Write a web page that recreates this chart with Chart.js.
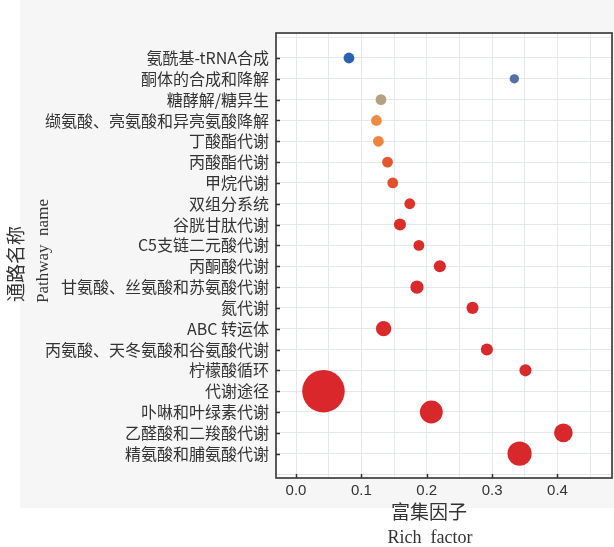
<!DOCTYPE html>
<html>
<head>
<meta charset="utf-8">
<script src="https://cdn.jsdelivr.net/npm/chart.js@4/dist/chart.umd.min.js"></script>
<style>
  html, body { margin: 0; padding: 0; background: #fff; }
  canvas { display: block; }
</style>
</head>
<body>
<canvas id="bubbleChart" width="614" height="547"></canvas>
<script>
// KEGG pathway enrichment, top to bottom as in the figure
const pathways = [
  "氨酰基-tRNA合成", "酮体的合成和降解", "糖酵解/糖异生", "缬氨酸、亮氨酸和异亮氨酸降解",
  "丁酸酯代谢", "丙酸酯代谢", "甲烷代谢", "双组分系统", "谷胱甘肽代谢", "C5支链二元酸代谢",
  "丙酮酸代谢", "甘氨酸、丝氨酸和苏氨酸代谢", "氮代谢", "ABC 转运体",
  "丙氨酸、天冬氨酸和谷氨酸代谢", "柠檬酸循环", "代谢途径", "卟啉和叶绿素代谢",
  "乙醛酸和二羧酸代谢", "精氨酸和脯氨酸代谢"
];
const richFactor = [0.081, 0.334, 0.130, 0.123, 0.126, 0.140, 0.148, 0.174, 0.159, 0.188,
                    0.220, 0.185, 0.270, 0.134, 0.292, 0.351, 0.042, 0.207, 0.409, 0.342];
const geneCount  = [4, 3, 4, 4, 4, 4, 4, 4, 5, 4,
                    5, 6, 5, 8, 5, 5, 62, 18, 12, 20];
const qValue     = [1.0, 0.9, 0.65, 0.5, 0.48, 0.3, 0.28, 0.15, 0.12, 0.08,
                    0.05, 0.05, 0.05, 0.05, 0.05, 0.05, 0.02, 0.03, 0.03, 0.03];
const xTickValues = [0, 0.05, 0.1, 0.15, 0.2, 0.25, 0.3, 0.35, 0.4, 0.45];

// q-value colour ramp (red = significant, blue = not)
const RAMP = [
  [0.00, [216, 38, 43]], [0.12, [219, 44, 41]], [0.30, [229, 85, 46]],
  [0.50, [239, 138, 63]], [0.65, [179, 162, 127]], [0.90, [84, 112, 163]], [1.00, [43, 98, 173]]
];
function rampColor(q) {
  for (let i = 1; i < RAMP.length; i++) {
    if (q <= RAMP[i][0]) {
      const [q0, c0] = RAMP[i - 1], [q1, c1] = RAMP[i];
      const t = (q - q0) / (q1 - q0);
      const c = c0.map((v, k) => Math.round(v + (c1[k] - v) * t));
      return `rgb(${c[0]},${c[1]},${c[2]})`;
    }
  }
  return "rgb(43,98,173)";
}

const points = pathways.map((p, i) => ({
  x: richFactor[i],
  y: i + 1,
  r: 2.7 * Math.sqrt(geneCount[i])
}));
const colors = qValue.map(rampColor);

const GRID = "#e5e8eb";
const INK = "#333";

const decor = {
  id: "decor",
  beforeDraw(chart) {
    const { ctx, chartArea: a } = chart;
    ctx.save();
    ctx.fillStyle = "#fff";
    ctx.fillRect(0, 0, chart.width, chart.height);
    ctx.fillStyle = "#f6f6f6";
    ctx.fillRect(20, 0, chart.width - 20, 508);
    ctx.fillStyle = "#fff";
    ctx.fillRect(a.left, a.top, a.right - a.left, a.bottom - a.top);
    ctx.restore();
  },
  afterDraw(chart) {
    const { ctx, chartArea: a, scales } = chart;
    ctx.save();
    // inward tick marks
    ctx.strokeStyle = INK;
    ctx.lineWidth = 1.5;
    ctx.beginPath();
    pathways.forEach((p, i) => {
      const y = Math.round(scales.y.getPixelForValue(i + 1)) + 0.5;
      ctx.moveTo(a.left, y); ctx.lineTo(a.left + 4, y);
    });
    [0, 0.1, 0.2, 0.3, 0.4].forEach(v => {
      const x = Math.round(scales.x.getPixelForValue(v)) + 0.5;
      ctx.moveTo(x, a.bottom); ctx.lineTo(x, a.bottom - 4);
    });
    ctx.stroke();
    // frame
    ctx.lineWidth = 1.6;
    ctx.strokeRect(a.left, a.top, a.right - a.left, a.bottom - a.top);

    // axis titles
    ctx.fillStyle = INK;
    ctx.textAlign = "center";
    ctx.textBaseline = "middle";
    ctx.font = '19px "Noto Sans CJK SC"';
    ctx.fillText("富集因子", 429, 512);
    ctx.font = '18px "Liberation Serif"';
    ctx.fillText("Rich  factor", 430, 538);

    ctx.translate(16, 264);
    ctx.rotate(-Math.PI / 2);
    ctx.font = '19px "Noto Sans CJK SC"';
    ctx.fillText("通路名称", 0, 0);
    ctx.restore();

    ctx.save();
    ctx.fillStyle = INK;
    ctx.textAlign = "center";
    ctx.textBaseline = "middle";
    ctx.translate(44, 251);
    ctx.rotate(-Math.PI / 2);
    ctx.font = '17px "Liberation Serif"';
    ctx.fillText("Pathway  name", 0, 0);
    ctx.restore();
  }
};

new Chart(document.getElementById("bubbleChart").getContext("2d"), {
  type: "bubble",
  data: {
    datasets: [{
      data: points,
      backgroundColor: colors,
      borderWidth: 0,
      hoverBorderWidth: 0
    }]
  },
  options: {
    responsive: false,
    animation: false,
    layout: { autoPadding: false, padding: { top: 33, right: 2, left: 0, bottom: 0 } },
    plugins: {
      legend: { display: false },
      tooltip: { enabled: false }
    },
    scales: {
      x: {
        type: "linear",
        min: -0.0306,
        max: 0.4834,
        afterFit: s => { s.height = 69; s.paddingLeft = 0; s.paddingRight = 0; },
        afterBuildTicks: s => { s.ticks = xTickValues.map(v => ({ value: v })); },
        grid: { color: GRID, drawTicks: false },
        border: { display: false },
        ticks: {
          padding: 4,
          color: INK,
          font: { family: '"Liberation Sans", Arial, sans-serif', size: 15 },
          autoSkip: false,
          maxRotation: 0,
          callback: v => Math.abs(v * 10 - Math.round(v * 10)) < 1e-6 ? v.toFixed(1) : ""
        }
      },
      y: {
        type: "linear",
        reverse: true,
        min: -0.2,
        max: 21.17,
        afterFit: s => { s.width = 276; s.paddingTop = 0; s.paddingBottom = 0; },
        afterBuildTicks: s => {
          const t = [];
          for (let i = 0; i <= pathways.length + 1; i++) t.push({ value: i });
          s.ticks = t;
        },
        grid: { color: GRID, drawTicks: false },
        border: { display: false },
        ticks: {
          padding: 7,
          color: INK,
          autoSkip: false,
          font: { family: '"Noto Sans CJK SC", sans-serif', size: 16 },
          callback: v => (v >= 1 && v <= pathways.length) ? pathways[v - 1] : ""
        }
      }
    }
  },
  plugins: [decor]
});
</script>
</body>
</html>
